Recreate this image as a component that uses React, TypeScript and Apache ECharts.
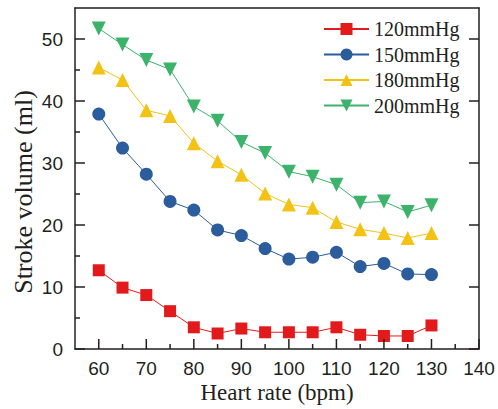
import React, { useEffect, useRef } from "react";
import * as echarts from "echarts";

const heartRate = [60, 65, 70, 75, 80, 85, 90, 95, 100, 105, 110, 115, 120, 125, 130];
const sv120 = [12.7, 9.9, 8.7, 6.1, 3.5, 2.5, 3.3, 2.7, 2.7, 2.7, 3.5, 2.3, 2.1, 2.1, 3.8];
const sv150 = [37.9, 32.4, 28.2, 23.8, 22.4, 19.2, 18.3, 16.2, 14.5, 14.8, 15.6, 13.3, 13.8, 12.1, 12.0];
const sv180 = [45.4, 43.4, 38.5, 37.6, 33.2, 30.3, 28.1, 25.1, 23.3, 22.8, 20.5, 19.3, 18.7, 17.9, 18.7];
const sv200 = [51.7, 49.1, 46.6, 45.1, 39.1, 36.8, 33.4, 31.6, 28.6, 27.8, 26.5, 23.6, 23.8, 22.1, 23.2];

const seriesNames = ["120mmHg", "150mmHg", "180mmHg", "200mmHg"];
const xMajorTicks = [60, 70, 80, 90, 100, 110, 120, 130, 140];
const xMinorTicks = [65, 75, 85, 95, 105, 115, 125, 135];
const yMajorTicks = [0, 10, 20, 30, 40, 50];
const yMinorTicks = [5, 15, 25, 35, 45];

const X_MIN = 55;
const X_MAX = 140;
const Y_MIN = 0;
const Y_MAX = 55;

const AXIS_COLOR = "#231f20";
const SANS = "'Liberation Sans', Arial, sans-serif";
const SERIF = "'Liberation Serif', 'Times New Roman', serif";

export default function App() {
  const ref = useRef<HTMLDivElement>(null);
  useEffect(() => {
    document.body.style.margin = "0";
    if (!ref.current) return;
    const chart = echarts.init(ref.current, null, { renderer: "svg" });
    const toPairs = (vals: number[]) => heartRate.map((x, i) => [x, vals[i]]);
    const axLine = (show: boolean) => ({ show, onZero: false, lineStyle: { color: AXIS_COLOR, width: 1.5 } });
    const mk = (name: string, vals: number[], color: string, symbol: string, size: number, rotate = 0) => ({
      name,
      type: "line",
      data: toPairs(vals),
      xAxisIndex: 0,
      yAxisIndex: 0,
      symbol,
      symbolSize: size,
      symbolRotate: rotate,
      showAllSymbol: true,
      lineStyle: { color, width: 1 },
      itemStyle: { color, borderWidth: 0 },
      z: 3,
    });
    // Inward tick marks, positioned through the axes' own scales
    const tickSeries = (vals: number[], dir: "up" | "right" | "left", len: number) => ({
      type: "custom",
      silent: true,
      xAxisIndex: 0,
      yAxisIndex: 0,
      clip: false,
      z: 6,
      data: vals.map((v) => (dir === "up" ? [v, Y_MIN] : dir === "right" ? [X_MIN, v] : [X_MAX, v])),
      renderItem: (_params: any, api: any) => {
        const p = api.coord([api.value(0), api.value(1)]);
        let x2 = p[0];
        let y2 = p[1];
        if (dir === "up") y2 = p[1] - len;
        else if (dir === "right") x2 = p[0] + len;
        else x2 = p[0] - len;
        return {
          type: "line",
          shape: { x1: p[0], y1: p[1], x2, y2 },
          style: { stroke: AXIS_COLOR, lineWidth: 1.5 },
        };
      },
    });
    const xBase = { type: "value", min: X_MIN, max: X_MAX, interval: 5, splitLine: { show: false }, axisTick: { show: false } };
    const yBase = { type: "value", min: Y_MIN, max: Y_MAX, interval: 5, splitLine: { show: false }, axisTick: { show: false } };
    chart.setOption({
      animation: false,
      backgroundColor: "#ffffff",
      grid: { left: 75, right: 19, top: 8, bottom: 60, containLabel: false },
      legend: {
        orient: "vertical",
        left: 318,
        top: 14,
        itemWidth: 45,
        itemHeight: 15,
        itemGap: 5.5,
        data: seriesNames,
        textStyle: { fontFamily: SERIF, fontSize: 20, color: AXIS_COLOR, lineHeight: 20 },
      },
      xAxis: [
        {
          ...xBase,
          position: "bottom",
          axisLine: axLine(true),
          axisLabel: { show: true, customValues: xMajorTicks, margin: 10, fontFamily: SANS, fontSize: 19, color: AXIS_COLOR },
        },
        {
          ...xBase,
          position: "top",
          axisLine: axLine(true),
          axisLabel: { show: false },
        },
      ],
      yAxis: [
        {
          ...yBase,
          position: "left",
          axisLine: axLine(true),
          axisLabel: { show: true, customValues: yMajorTicks, margin: 12, fontFamily: SANS, fontSize: 19, color: AXIS_COLOR },
        },
        {
          ...yBase,
          position: "right",
          axisLine: axLine(true),
          axisLabel: { show: false },
        },
      ],
      graphic: [
        {
          type: "text",
          x: 277,
          y: 392,
          style: { text: "Heart rate (bpm)", fontFamily: SERIF, fontSize: 23, fill: AXIS_COLOR, textAlign: "center", textVerticalAlign: "middle" },
        },
        {
          type: "text",
          x: 23,
          y: 192,
          rotation: Math.PI / 2,
          style: { text: "Stroke volume (ml)", fontFamily: SERIF, fontSize: 26, fill: AXIS_COLOR, textAlign: "center", textVerticalAlign: "middle" },
        },
      ],
      series: [
        mk(seriesNames[0], sv120, "#e31a1c", "rect", 12),
        mk(seriesNames[1], sv150, "#2b5c9c", "circle", 13),
        mk(seriesNames[2], sv180, "#f2c314", "triangle", 14),
        mk(seriesNames[3], sv200, "#3cb36b", "triangle", 14, 180),
        tickSeries(xMajorTicks, "up", 10),
        tickSeries(xMinorTicks, "up", 5),
        tickSeries(yMajorTicks, "right", 10),
        tickSeries(yMinorTicks, "right", 5),
        tickSeries(yMajorTicks, "left", 10),
      ],
    });
    return () => chart.dispose();
  }, []);
  return <div ref={ref} style={{ width: 498, height: 409 }} />;
}
